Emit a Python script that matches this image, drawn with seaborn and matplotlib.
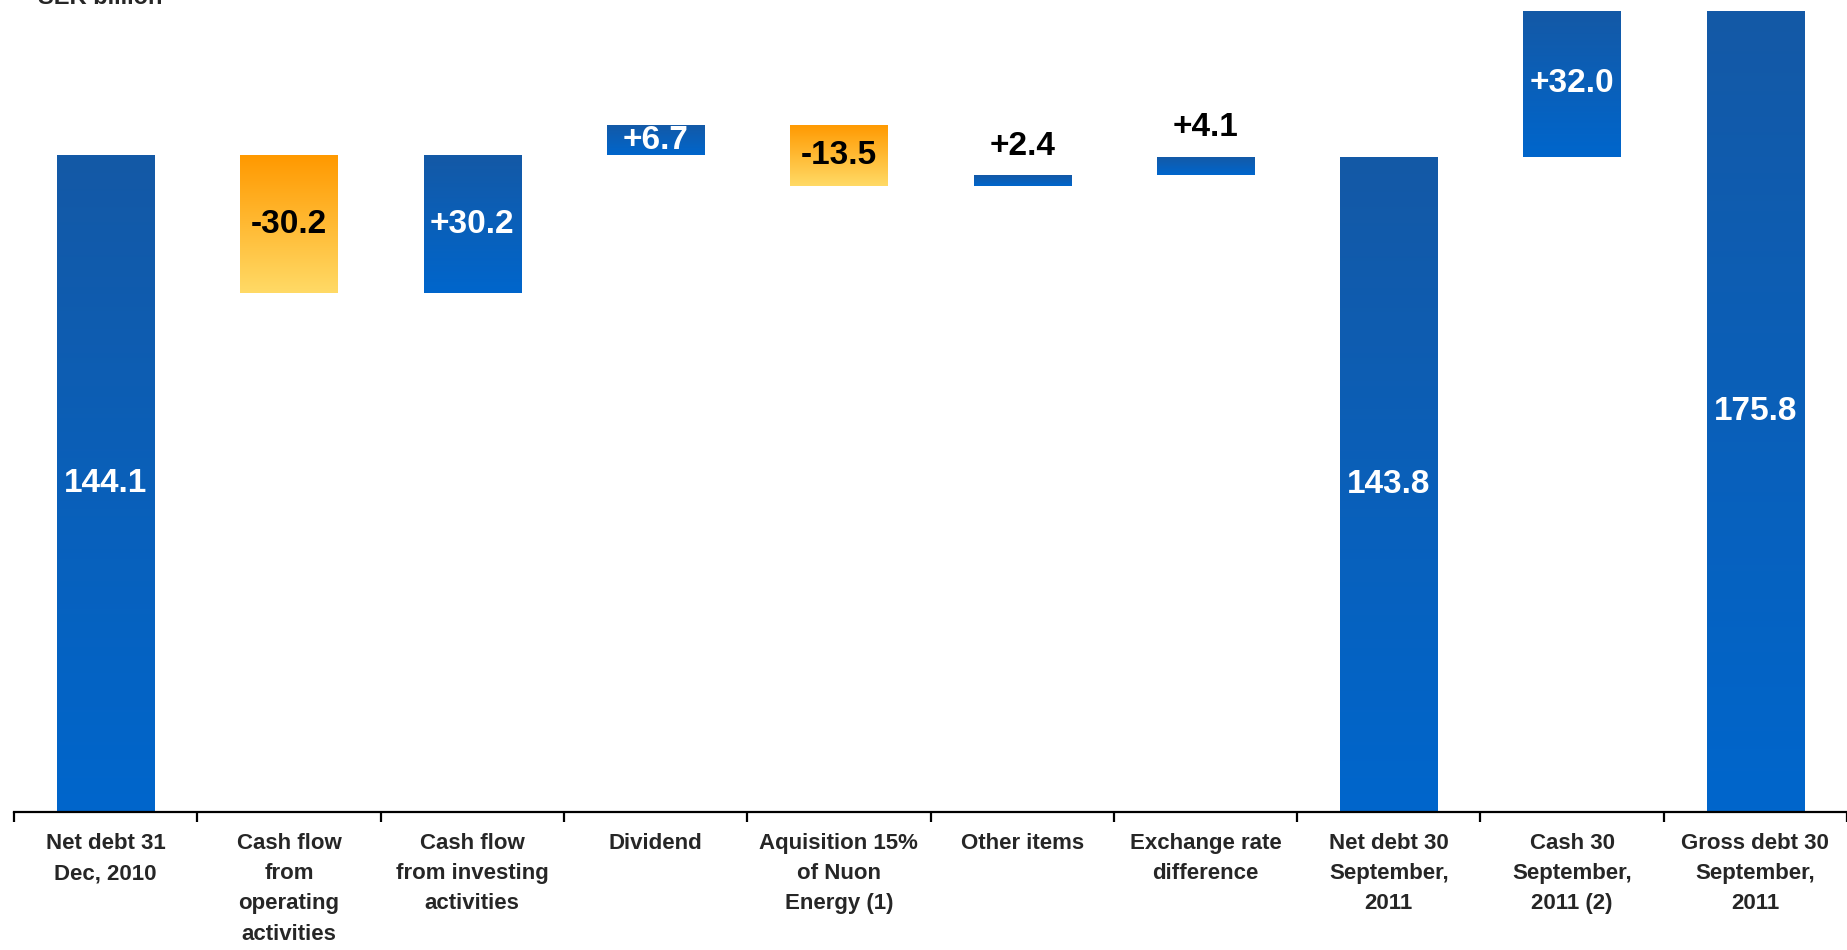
import matplotlib
matplotlib.use("Agg")
import matplotlib.pyplot as plt
import matplotlib.colors as mcolors
import numpy as np
import pandas as pd
import seaborn as sns

# data (SEK billion)
categories = [
    "Net debt 31\nDec, 2010",
    "Cash flow\nfrom\noperating\nactivities",
    "Cash flow\nfrom investing\nactivities",
    "Dividend",
    "Aquisition 15%\nof Nuon\nEnergy (1)",
    "Other items",
    "Exchange rate\ndifference",
    "Net debt 30\nSeptember,\n2011",
    "Cash 30\nSeptember,\n2011 (2)",
    "Gross debt 30\nSeptember,\n2011",
]
values = [144.1, -30.2, 30.2, 6.7, -13.5, 2.4, 4.1, 143.8, 32.0, 175.8]
is_total = [True, False, False, False, False, False, False, True, False, True]

# waterfall bottoms
bottoms = []
running = 0.0
for v, tot in zip(values, is_total):
    if tot:
        bottoms.append(0.0)
        running = v
    else:
        bottoms.append(running if v > 0 else running + v)
        running += v

df = pd.DataFrame({"category": categories, "height": np.abs(values), "bottom": bottoms})

sns.set_style("white")
plt.rcParams["font.family"] = ["Liberation Sans", "DejaVu Sans"]

fig = plt.figure(figsize=(18.47, 9.5), dpi=100)
ax = fig.add_axes([14 / 1847, 1 - 812 / 950, 1 - 14 / 1847, (812 - 11) / 950])

sns.barplot(data=df, x="category", y="height", ax=ax, width=0.53, color="#0066CC",
            saturation=1, order=categories)

blue_top, blue_bot = "#1459A6", "#0066CC"
orange_top, orange_bot = "#FF9900", "#FFDA66"

for patch, bottom, v in zip(ax.patches, bottoms, values):
    patch.set_y(bottom)
    x0, w, h = patch.get_x(), patch.get_width(), patch.get_height()
    if v < 0:
        c_top, c_bot = orange_top, orange_bot
    else:
        c_top, c_bot = blue_top, blue_bot
    cmap = mcolors.LinearSegmentedColormap.from_list("g", [c_bot, c_top])
    grad = np.linspace(0, 1, 256).reshape(-1, 1)
    im = ax.imshow(grad, cmap=cmap, aspect="auto", origin="lower",
                   extent=[x0, x0 + w, bottom, bottom + h], zorder=2)
    im.set_clip_path(patch)
    patch.set_facecolor("none")
    patch.set_edgecolor("none")

# value labels
for i, (v, bottom, tot) in enumerate(zip(values, bottoms, is_total)):
    txt = f"{v:.1f}" if tot else f"{v:+.1f}"
    h = abs(v)
    if h > 5:
        color = "black" if v < 0 else "white"
        ax.text(i, bottom + h / 2, txt, ha="center", va="center", fontsize=24,
                fontweight="bold", color=color, zorder=5)
    else:
        ax.annotate(txt, (i, bottom + h), xytext=(0, 10), textcoords="offset points",
                    ha="center", va="bottom", fontsize=24, fontweight="bold",
                    color="black", zorder=5)

ax.set_xlim(-0.5, len(categories) - 0.5)
ax.set_ylim(0, 175.8)
ax.set_xlabel("")
ax.set_ylabel("")
ax.set_yticks([])

for s in ["top", "right", "left"]:
    ax.spines[s].set_visible(False)
ax.spines["bottom"].set_color("black")
ax.spines["bottom"].set_linewidth(1.6)

ax.set_xticks(range(len(categories)))
ax.set_xticklabels(categories, fontsize=16, fontweight="bold", linespacing=1.58)
ax.tick_params(axis="x", which="major", length=0, pad=15)
ax.set_xticks(np.arange(-0.5, len(categories), 1.0), minor=True)
ax.tick_params(axis="x", which="minor", length=7, width=1.6, color="black", direction="out")
ax.tick_params(axis="x", which="both", bottom=True)

fig.text(38 / 1847, 1 - 4 / 950, "SEK billion", ha="left", va="baseline",
         fontsize=17, fontweight="bold")

fig.savefig("out.png", dpi=100)
